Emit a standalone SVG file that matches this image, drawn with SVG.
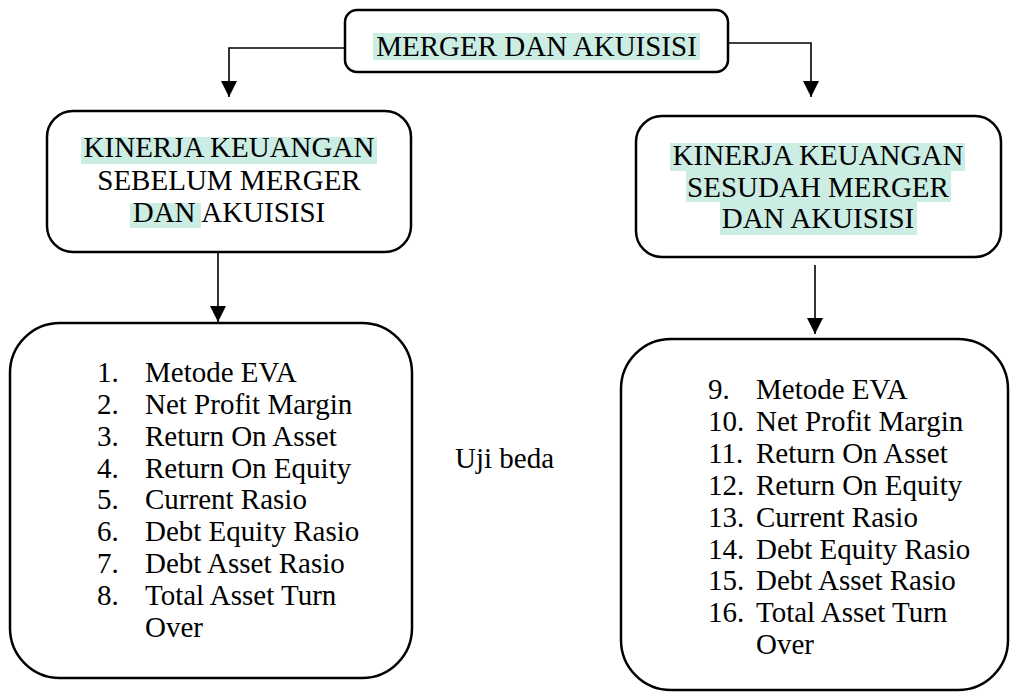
<svg xmlns="http://www.w3.org/2000/svg" width="1011" height="692" viewBox="0 0 1011 692" font-family="'Liberation Serif', 'Times New Roman', Times, 'DejaVu Serif', serif">
<style>
.box{fill:#fff;stroke:#000;stroke-width:2.5}
.t{font-family:'Liberation Serif','Times New Roman',Times,'DejaVu Serif',serif;font-size:29px;fill:#000}
.c{text-anchor:middle}
.hl{fill:#ccede4}
.con{fill:none;stroke:#000;stroke-width:1.6}
</style>
<defs>
<marker id="arr" markerUnits="userSpaceOnUse" markerWidth="16" markerHeight="17" refX="8" refY="16" orient="0" viewBox="0 0 16 17">
<path d="M0,0 L16,0 L8,16 Z" fill="#000"/>
</marker>
</defs>
<rect width="1011" height="692" fill="#fff"/>
<g id="connectors">
<polyline class="con" points="345,48 229,48 229,97" marker-end="url(#arr)"/>
<polyline class="con" points="728,43 811,43 811,97" marker-end="url(#arr)"/>
<line class="con" x1="218" y1="253" x2="218" y2="322" marker-end="url(#arr)"/>
<line class="con" x1="815" y1="265" x2="815" y2="334" marker-end="url(#arr)"/>
</g>
<g id="top">
<rect class="box" x="345" y="10" width="383" height="62" rx="12"/>
<rect class="hl" x="373" y="33" width="327" height="27"/>
<text class="t c" x="536.5" y="56">MERGER DAN AKUISISI</text>
</g>
<g id="before">
<rect class="box" x="47" y="111" width="364" height="141" rx="26"/>
<rect class="hl" x="81" y="137" width="296" height="27"/>
<rect class="hl" x="130" y="203" width="71" height="25"/>
<text class="t c" x="229" y="157">KINERJA KEUANGAN</text>
<text class="t c" x="229" y="190">SEBELUM MERGER</text>
<text class="t c" x="229" y="222">DAN AKUISISI</text>
</g>
<g id="after">
<rect class="box" x="636" y="116" width="365" height="141" rx="26"/>
<rect class="hl" x="670" y="143" width="295" height="28"/>
<rect class="hl" x="686" y="171" width="265" height="31"/>
<rect class="hl" x="720" y="202" width="197" height="33"/>
<text class="t c" x="818" y="165">KINERJA KEUANGAN</text>
<text class="t c" x="818" y="197">SESUDAH MERGER</text>
<text class="t c" x="818" y="228">DAN AKUISISI</text>
</g>
<g id="list-before">
<rect class="box" x="10" y="323" width="402" height="355" rx="50"/>
<g class="t">
<text x="97" y="382">1.</text><text x="145" y="382">Metode EVA</text>
<text x="97" y="414">2.</text><text x="145" y="414">Net Profit Margin</text>
<text x="97" y="446">3.</text><text x="145" y="446">Return On Asset</text>
<text x="97" y="478">4.</text><text x="145" y="478">Return On Equity</text>
<text x="97" y="509">5.</text><text x="145" y="509">Current Rasio</text>
<text x="97" y="541">6.</text><text x="145" y="541">Debt Equity Rasio</text>
<text x="97" y="573">7.</text><text x="145" y="573">Debt Asset Rasio</text>
<text x="97" y="605">8.</text><text x="145" y="605">Total Asset Turn</text>
<text x="145" y="637">Over</text>
</g>
</g>
<g id="uji">
<text class="t" x="455" y="468">Uji beda</text>
</g>
<g id="list-after">
<rect class="box" x="621" y="339" width="387" height="351" rx="50"/>
<g class="t">
<text x="708" y="399">9.</text><text x="756" y="399">Metode EVA</text>
<text x="708" y="431">10.</text><text x="756" y="431">Net Profit Margin</text>
<text x="708" y="463">11.</text><text x="756" y="463">Return On Asset</text>
<text x="708" y="495">12.</text><text x="756" y="495">Return On Equity</text>
<text x="708" y="527">13.</text><text x="756" y="527">Current Rasio</text>
<text x="708" y="559">14.</text><text x="756" y="559">Debt Equity Rasio</text>
<text x="708" y="590">15.</text><text x="756" y="590">Debt Asset Rasio</text>
<text x="708" y="622">16.</text><text x="756" y="622">Total Asset Turn</text>
<text x="756" y="654">Over</text>
</g>
</g>
</svg>
